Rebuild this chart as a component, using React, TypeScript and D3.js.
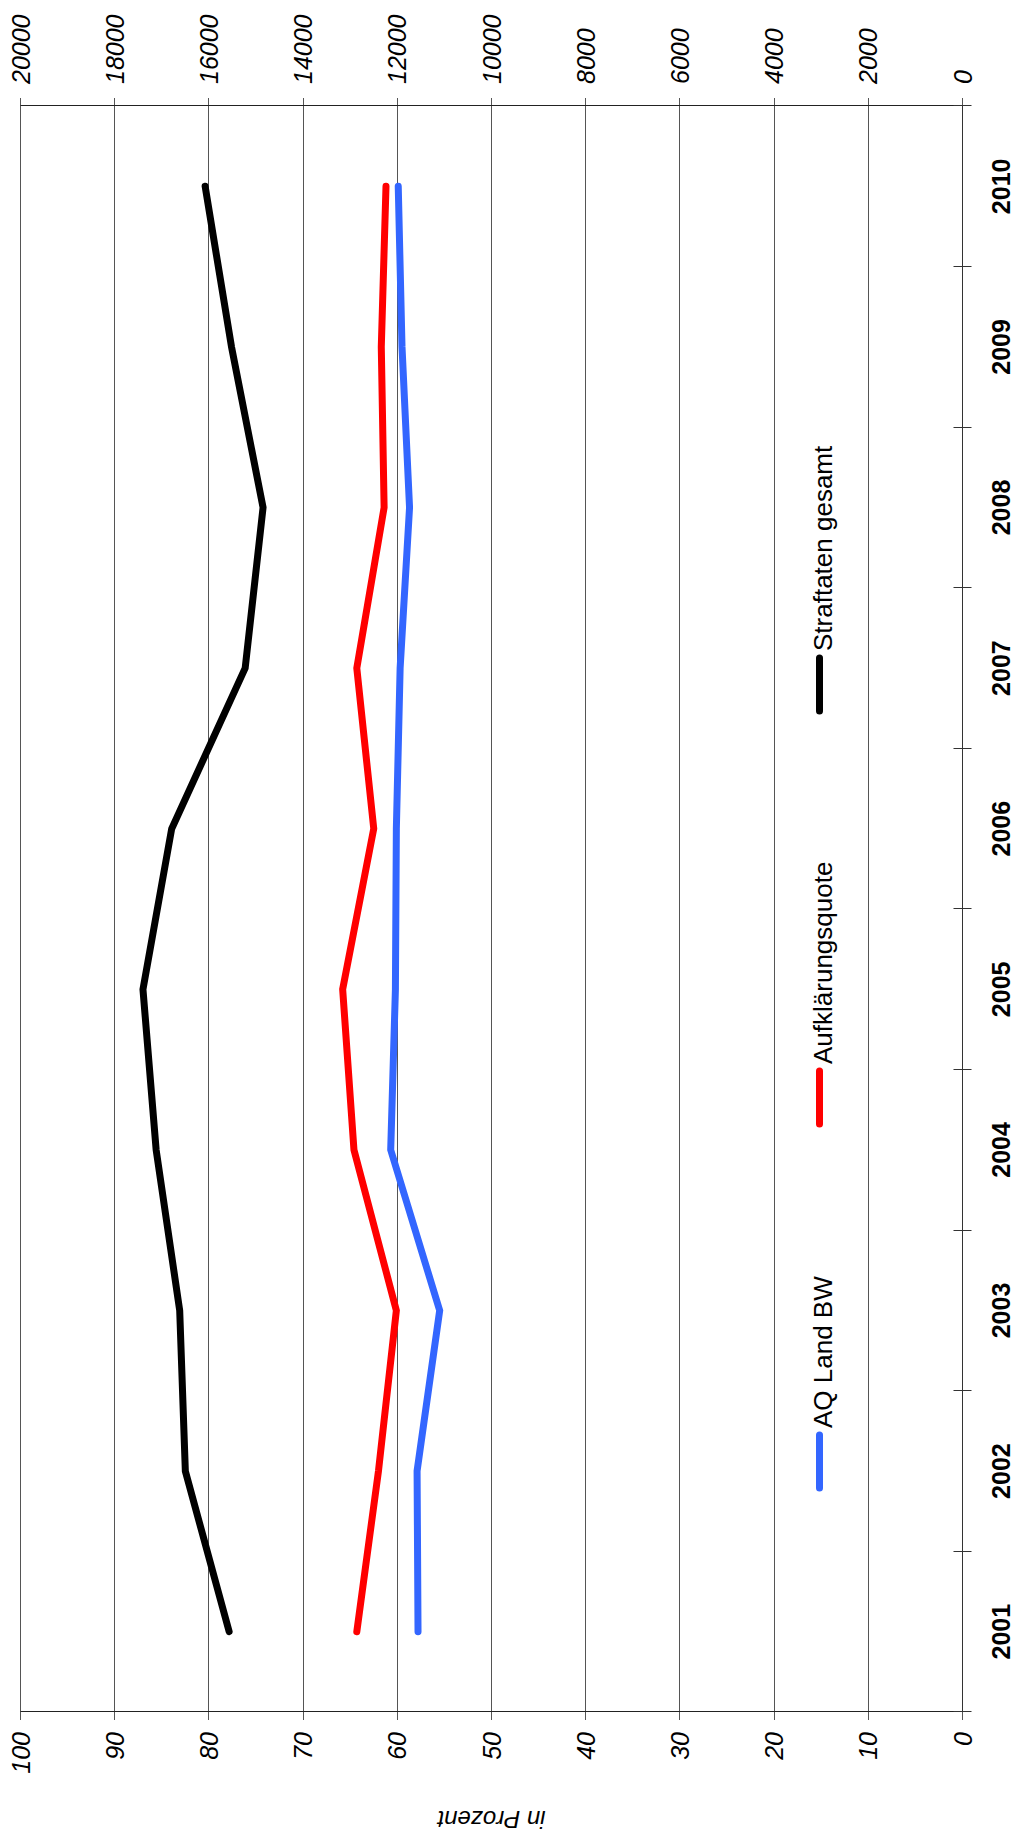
import React from "react";
import * as d3 from "d3";

const years = ["2001", "2002", "2003", "2004", "2005", "2006", "2007", "2008", "2009", "2010"];
// Straftaten gesamt (right axis, absolute numbers)
const straftatenGesamt = [15570, 16500, 16620, 17120, 17400, 16790, 15230, 14850, 15520, 16080];
// Aufklärungsquote (left axis, in Prozent)
const aufklaerungsquote = [64.3, 62.0, 60.1, 64.6, 65.8, 62.5, 64.3, 61.4, 61.7, 61.2];
// AQ Land BW (left axis, in Prozent)
const aqLandBW = [57.8, 57.9, 55.5, 60.7, 60.2, 60.1, 59.7, 58.7, 59.5, 59.9];

const percentTicks = [0, 10, 20, 30, 40, 50, 60, 70, 80, 90, 100];
const countTicks = [0, 2000, 4000, 6000, 8000, 10000, 12000, 14000, 16000, 18000, 20000];

const W = 1016;
const H = 1842;
const FONT = "'Liberation Sans', Arial, sans-serif";

// the chart is laid out upright and then turned by -90 degrees
const plot = { left: 130, right: 1736, top: 20.5, bottom: 962.5 };

const crisp = (v: number) => Math.round(v - 0.5) + 0.5;

export default function App() {
  const x = d3.scaleBand<string>().domain(years).range([plot.left, plot.right]);
  const yPct = d3.scaleLinear().domain([0, 100]).range([plot.bottom, plot.top]);
  const yCnt = d3.scaleLinear().domain([0, 20000]).range([plot.bottom, plot.top]);
  const cx = (i: number) => (x(years[i]) as number) + x.bandwidth() / 2;

  const pctLine = d3
    .line<number>()
    .x((_, i) => cx(i))
    .y((d) => yPct(d));
  const cntLine = d3
    .line<number>()
    .x((_, i) => cx(i))
    .y((d) => yCnt(d));

  const series = [
    { name: "AQ Land BW", color: "#3366ff", d: pctLine(aqLandBW), lx: 350 },
    { name: "Aufklärungsquote", color: "#ff0000", d: pctLine(aufklaerungsquote), lx: 714 },
    { name: "Straftaten gesamt", color: "#000000", d: cntLine(straftatenGesamt), lx: 1127 },
  ];

  const boundaries = years.map((y) => x(y) as number).concat([plot.right]);

  return (
    <svg
      width={W}
      height={H}
      style={{ position: "absolute", left: 0, top: 0, background: "#fff" }}
      fontFamily={FONT}
    >
      <rect width={W} height={H} fill="#fff" />
      <g transform={`translate(0,${H}) rotate(-90)`}>
        {/* grid lines, shared by both value axes */}
        {percentTicks.map((t) => (
          <line
            key={"g" + t}
            x1={plot.left - 8}
            x2={plot.right + 8}
            y1={crisp(yPct(t))}
            y2={crisp(yPct(t))}
            stroke="#555"
            strokeWidth={1}
          />
        ))}
        {/* value axis lines */}
        <line x1={crisp(plot.left)} x2={crisp(plot.left)} y1={plot.top} y2={plot.bottom + 8} stroke="#222" />
        <line x1={crisp(plot.right)} x2={crisp(plot.right)} y1={plot.top} y2={plot.bottom + 8} stroke="#222" />
        {/* category axis */}
        <line x1={plot.left} x2={plot.right} y1={crisp(plot.bottom)} y2={crisp(plot.bottom)} stroke="#333" />
        {boundaries.map((b, i) => (
          <line
            key={"c" + i}
            x1={crisp(b)}
            x2={crisp(b)}
            y1={plot.bottom - 9}
            y2={plot.bottom + 9}
            stroke="#333"
          />
        ))}
        {years.map((y, i) => (
          <text
            key={"y" + y}
            x={cx(i)}
            y={plot.bottom + 47}
            textAnchor="middle"
            fontSize={25}
            fontWeight="bold"
          >
            {y}
          </text>
        ))}
        {/* left axis labels */}
        {percentTicks.map((t) => (
          <text
            key={"p" + t}
            x={plot.left - 20}
            y={yPct(t)}
            dy="0.36em"
            textAnchor="end"
            fontSize={25}
            fontStyle="italic"
          >
            {t}
          </text>
        ))}
        {/* right axis labels */}
        {countTicks.map((t) => (
          <text
            key={"n" + t}
            x={plot.right + 22}
            y={yCnt(t)}
            dy="0.36em"
            textAnchor="start"
            fontSize={25}
            fontStyle="italic"
          >
            {t}
          </text>
        ))}
        <text
          transform={`translate(31,${(plot.top + plot.bottom) / 2}) rotate(-90)`}
          textAnchor="middle"
          fontSize={24}
          fontStyle="italic"
        >
          in Prozent
        </text>
        {/* data lines */}
        {series.map((s) => (
          <path
            key={s.name}
            d={s.d as string}
            fill="none"
            stroke={s.color}
            strokeWidth={7}
            strokeLinecap="round"
            strokeLinejoin="miter"
          />
        ))}
        {/* legend */}
        {series.map((s) => (
          <g key={"l" + s.name}>
            <line
              x1={s.lx + 4}
              x2={s.lx + 57}
              y1={819.5}
              y2={819.5}
              stroke={s.color}
              strokeWidth={7}
              strokeLinecap="round"
            />
            <text x={s.lx + 64} y={832} fontSize={26}>
              {s.name}
            </text>
          </g>
        ))}
      </g>
    </svg>
  );
}
